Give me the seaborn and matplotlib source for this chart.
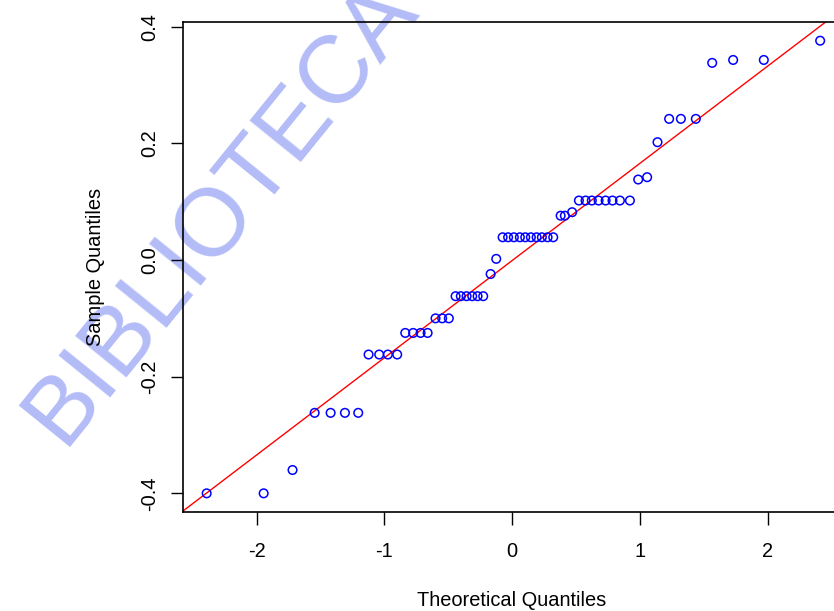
import matplotlib
matplotlib.use("Agg")
import matplotlib.pyplot as plt
import seaborn as sns

# Normal Q-Q plot
theoretical_q = [-2.390, -1.944, -1.718, -1.545, -1.420, -1.308, -1.204,
                 -1.123, -1.040, -0.972, -0.899, -0.836, -0.774, -0.716, -0.661,
                 -0.599, -0.547, -0.495, -0.442, -0.401, -0.356, -0.312, -0.270,
                 -0.226, -0.168, -0.124, -0.074, -0.031, 0.014, 0.061, 0.103,
                 0.147, 0.192, 0.233, 0.278, 0.322, 0.380, 0.413, 0.470, 0.523,
                 0.575, 0.624, 0.677, 0.732, 0.786, 0.844, 0.922, 0.987, 1.057,
                 1.138, 1.229, 1.321, 1.438, 1.566, 1.730, 1.970, 2.411]
sample_q = [-0.400, -0.400, -0.360, -0.262, -0.262, -0.262, -0.262,
            -0.162, -0.162, -0.162, -0.162, -0.125, -0.125, -0.125, -0.125,
            -0.100, -0.100, -0.100, -0.062, -0.062, -0.062, -0.062, -0.062,
            -0.062, -0.024, 0.002, 0.039, 0.039, 0.039, 0.039, 0.039,
            0.039, 0.039, 0.039, 0.039, 0.039, 0.076, 0.076, 0.082, 0.102,
            0.102, 0.102, 0.102, 0.102, 0.102, 0.102, 0.102, 0.138, 0.142,
            0.202, 0.242, 0.242, 0.242, 0.338, 0.343, 0.343, 0.376]

# qqline (through the quartiles)
line_slope = 0.1667
line_intercept = -0.001

x_ticks = [-2, -1, 0, 1, 2]
x_ticklabels = ["-2", "-1", "0", "1", "2"]
y_ticks = [-0.4, -0.2, 0.0, 0.2, 0.4]
y_ticklabels = ["-0.4", "-0.2", "0.0", "0.2", "0.4"]

sns.set_theme(style="ticks")
plt.rcParams["font.family"] = ["Liberation Sans", "DejaVu Sans"]
plt.rcParams["axes.unicode_minus"] = False

fig = plt.figure(figsize=(8.34, 6.11), dpi=100)
fig.patch.set_facecolor("white")
ax = fig.add_axes([0.219, 0.1625, 0.790, 0.802])
ax.set_facecolor("none")

# watermark behind the axes
fig.text(0.264, 0.653, "BIBLIOTECA", rotation=51, rotation_mode="anchor",
         ha="center", va="center", fontsize=69, color="#b3bcf7", zorder=-1,
         family=["Liberation Sans", "DejaVu Sans"])

sns.scatterplot(x=theoretical_q, y=sample_q, ax=ax, marker="o", s=38,
                color="#0000ff", facecolors="none", edgecolors="#0000ff",
                linewidth=1.1, zorder=3)
ax.axline((0, line_intercept), slope=line_slope, color="red", lw=1.0, zorder=2)

ax.set_xlim(-2.578, 2.578)
ax.set_ylim(-0.4315, 0.4086)
ax.set_xticks(x_ticks, x_ticklabels)
ax.set_yticks(y_ticks, y_ticklabels)

for side in ["left", "bottom", "top", "right"]:
    ax.spines[side].set_visible(True)
    ax.spines[side].set_color("black")
    ax.spines[side].set_linewidth(1.2)

ax.tick_params(axis="both", length=9, width=1.0, color="black",
               labelsize=14.4, labelcolor="black")
ax.tick_params(axis="x", pad=13)
ax.tick_params(axis="y", pad=8, labelrotation=90)
for lab in ax.get_yticklabels():
    lab.set_va("center")

ax.set_xlabel("Theoretical Quantiles", fontsize=14.4, color="black", va="center")
ax.set_ylabel("Sample Quantiles", fontsize=14.4, color="black", va="center")
ax.xaxis.set_label_coords(0.5, -0.182)
ax.yaxis.set_label_coords(-0.1316, 0.5)

fig.savefig("out.png", dpi=100)
